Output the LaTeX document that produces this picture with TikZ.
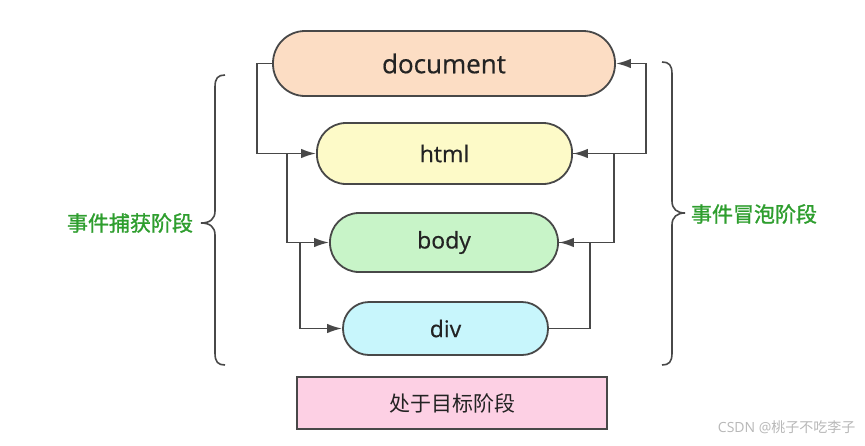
\documentclass[tikz,border=0pt]{standalone}
\usepackage{fontspec}
\setmainfont{Open Sans}
\newfontfamily\lat{Open Sans}[FakeBold=0.5]
\newfontfamily\cjk{Noto Sans CJK SC}
\newfontfamily\cjkb{Noto Sans CJK SC}[FakeBold=1.2]
\usetikzlibrary{arrows.meta,calc}
\definecolor{docfill}{RGB}{252,221,196}
\definecolor{htmlfill}{RGB}{253,250,200}
\definecolor{bodyfill}{RGB}{200,244,200}
\definecolor{divfill}{RGB}{200,246,252}
\definecolor{tgtfill}{RGB}{253,208,228}
\definecolor{edge}{RGB}{72,72,72}
\definecolor{lbl}{RGB}{46,158,46}
\definecolor{txt}{RGB}{35,35,35}
\tikzset{
  pill/.style={draw=edge, line width=1.8pt, rounded corners=29pt, text=txt, inner sep=0pt},
  conn/.style={draw=edge, line width=1.8pt, -{Latex[length=15pt,width=9.5pt]}},
  bracestyle/.style={draw=edge, line width=1.6pt},
  phase/.style={text=lbl, font=\cjkb\fontsize{21}{24}\selectfont}
}
\begin{document}
\begin{tikzpicture}[x=1pt,y=-1pt]
\useasboundingbox[fill=white] (0,0) rectangle (865,445);
\node[pill, fill=docfill, minimum width=342pt, minimum height=65pt, rounded corners=32pt, font=\lat\fontsize{26}{30}\selectfont] (doc) at (444,63.5) {document};
\node[pill, fill=htmlfill, minimum width=255pt, minimum height=61pt, font=\lat\fontsize{23}{27}\selectfont] (html) at (444.5,153.5) {html};
\node[pill, fill=bodyfill, minimum width=228pt, minimum height=59pt, font=\lat\fontsize{23}{27}\selectfont] (body) at (444,242.5) {body};
\node[pill, fill=divfill, minimum width=205pt, minimum height=53pt, rounded corners=26pt, font=\lat\fontsize{23}{27}\selectfont] (div) at (445.5,328.5) {div};
\node[draw=edge, line width=1.8pt, fill=tgtfill, minimum width=310pt, minimum height=52pt, text=txt, font=\cjk\fontsize{21}{24}\selectfont] (tgt) at (452,403) {处于目标阶段};
% capture
\draw[conn] (doc.west) -- ++(-15,0) |- (html.west);
\draw[conn] ($(html.west)+(-29,0)$) |- (body.west);
\draw[conn] ($(body.west)+(-29,0)$) |- (div.west);
% bubble
\draw[conn] (div.east) -- ++(41,0) |- (body.east);
\draw[conn] (body.east) -- ++(55,0) |- (html.east);
\draw[conn] (html.east) -- ++(73,0) |- (doc.east);
% braces
\draw[bracestyle] (225,75) .. controls (218,75) and (215,78) .. (215,87) -- (215,211) .. controls (215,219) and (210,223) .. (201,223) .. controls (210,223) and (215,227) .. (215,235) -- (215,353) .. controls (215,362) and (218,365) .. (225,365);
\draw[bracestyle] (662,62) .. controls (669,62) and (672,65) .. (672,74) -- (672,201) .. controls (672,209) and (677,213) .. (685,213) .. controls (677,213) and (672,217) .. (672,225) -- (672,353) .. controls (672,362) and (669,365) .. (662,365);
\node[phase] (cap) at (130,223) {事件捕获阶段};
\node[phase] (bub) at (754,214) {事件冒泡阶段};
\node[text=black!28, font=\fontsize{14}{16}\selectfont, anchor=east] (wm) at (859,427) {CSDN @{\cjk 桃子不吃李子}};
\end{tikzpicture}
\end{document}
